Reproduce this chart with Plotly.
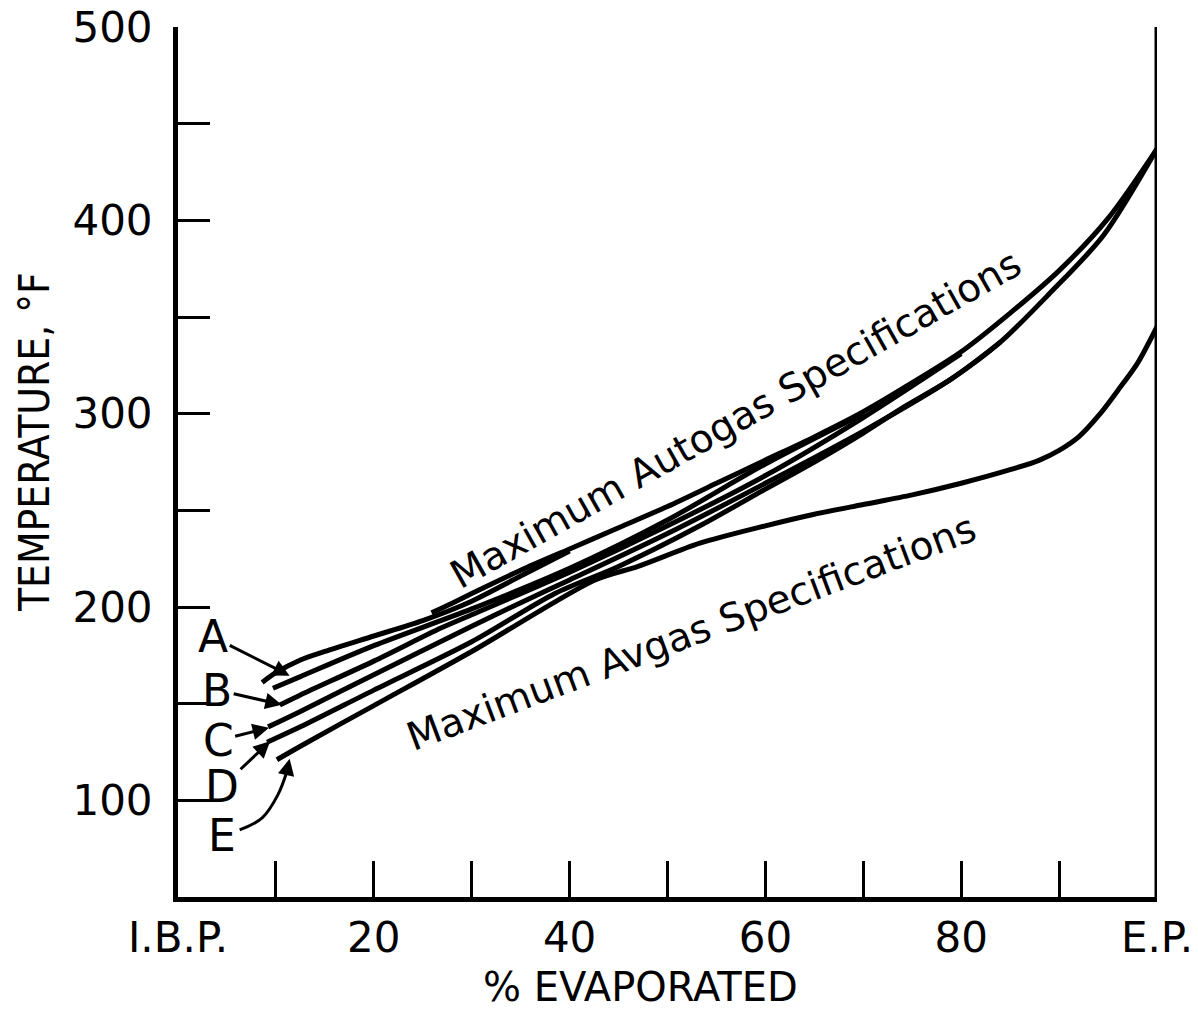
import plotly.graph_objects as go

# ---- data ----
autogas_x = [25.9, 28, 30, 35, 40, 45, 50, 55, 60, 65, 70, 75, 80, 85, 90, 95, 100]
autogas_y = [197, 202, 207, 219, 230, 241, 252, 264, 276, 288, 301, 316, 332, 352, 374, 401, 437]

a_x = [8.6, 10, 12.5, 15, 20, 25, 30, 35, 40]
a_y = [161, 166, 172.6, 177, 185, 193, 203, 216, 229]

a2_x = [9.7, 12.5, 20, 30, 40, 50, 60, 70]
a2_y = [158, 164, 180, 199, 220, 245, 274, 300]

b_x = [10.4, 12.5, 20, 26.8, 30, 40, 50, 60, 70, 80]
b_y = [149.3, 154.5, 172, 189, 196, 218, 242, 268, 298, 331]

c_x = [9.2, 12.5, 20, 30, 34.9, 40, 50, 60, 70, 79, 84]
c_y = [138, 146, 165, 190, 202, 214, 238, 264, 291, 318, 337]

d_x = [9.1, 12.5, 20, 30, 38.5, 45, 53.3, 60, 65, 70, 74, 79, 84, 89, 94.5, 100]
d_y = [130, 138, 157, 182, 207, 221, 242, 261, 275, 290, 303, 318, 337, 362, 392, 437]

e_x = [10.1, 12.5, 20, 30, 42.6, 47, 53.3, 60, 65, 70, 75, 80, 85, 88, 90, 92, 94.2, 96, 98, 100]
e_y = [121, 128, 149, 177, 214, 221, 233, 242, 248, 253, 258, 264, 271, 276, 281, 288, 300, 312, 326, 345]

# curved leader from label E
e_lead_x = [6.3, 8.6, 10.2, 11.1]
e_lead_y = [84.7, 90.9, 102.8, 114.5]

x_tickvals = [0, 10, 20, 30, 40, 50, 60, 70, 80, 90, 100]
x_ticktext = ["I.B.P.", "", "20", "", "40", "", "60", "", "80", "", "E.P."]
y_tickvals = [50, 100, 150, 200, 250, 300, 350, 400, 450, 500]
y_ticktext = ["", "100", "", "200", "", "300", "", "400", "", "500"]

labels = ["A", "B", "C", "D", "E"]
label_x = [3.6, 4.0, 4.1, 4.5, 4.5]
label_y = [184.5, 157, 131, 107, 82]
tip_x = [11.4, 10.6, 9.3, 9.4, None]
tip_y = [164.5, 149.5, 137.5, 130.5, None]

FONT = "DejaVu Sans, Verdana, sans-serif"
LW = 5

fig = go.Figure()
for xs, ys in [(autogas_x, autogas_y), (a_x, a_y), (a2_x, a2_y), (b_x, b_y),
               (c_x, c_y), (d_x, d_y), (e_x, e_y)]:
    fig.add_trace(go.Scatter(x=xs, y=ys, mode="lines",
                             line=dict(color="black", width=LW, shape="spline", smoothing=0.8),
                             showlegend=False, hoverinfo="skip"))
fig.add_trace(go.Scatter(x=e_lead_x, y=e_lead_y, mode="lines",
                         line=dict(color="black", width=3, shape="spline"),
                         showlegend=False, hoverinfo="skip"))

annotations = []
for i, lab in enumerate(labels):
    if tip_x[i] is not None:
        annotations.append(dict(x=tip_x[i], y=tip_y[i], ax=label_x[i], ay=label_y[i],
                                xref="x", yref="y", axref="x", ayref="y",
                                text=lab, showarrow=True, arrowhead=2, arrowsize=1.1,
                                arrowwidth=3, arrowcolor="black",
                                font=dict(family=FONT, size=44, color="black")))
    else:
        annotations.append(dict(x=label_x[i], y=label_y[i], xref="x", yref="y",
                                text=lab, showarrow=False,
                                font=dict(family=FONT, size=44, color="black")))
# arrow head on E leader
annotations.append(dict(x=11.4, y=121.5, ax=e_lead_x[-1], ay=e_lead_y[-1],
                        xref="x", yref="y", axref="x", ayref="y", text="",
                        showarrow=True, arrowhead=2, arrowsize=1.1, arrowwidth=3,
                        arrowcolor="black"))

annotations.append(dict(x=56.9, y=297, xref="x", yref="y",
                        text="Maximum Autogas Specifications", showarrow=False,
                        textangle=-29.4,
                        font=dict(family=FONT, size=39, color="black")))
annotations.append(dict(x=52.4, y=187, xref="x", yref="y",
                        text="Maximum Avgas Specifications", showarrow=False,
                        textangle=-20.6,
                        font=dict(family=FONT, size=39, color="black")))

# axis titles
annotations.append(dict(x=0.472, y=-0.103, xref="paper", yref="paper",
                        text="% EVAPORATED", showarrow=False,
                        xanchor="center", yanchor="middle",
                        font=dict(family=FONT, size=40, color="black")))
annotations.append(dict(x=-0.146, y=0.523, xref="paper", yref="paper",
                        text="TEMPERATURE, °F", showarrow=False, textangle=-90,
                        xanchor="center", yanchor="middle",
                        font=dict(family="DejaVu Sans Condensed, Liberation Sans Narrow, DejaVu Sans, sans-serif",
                                  size=42, color="black")))

fig.update_layout(
    width=1198, height=1011,
    margin=dict(l=178, r=41, t=27, b=114, autoexpand=False),
    paper_bgcolor="white", plot_bgcolor="white",
    annotations=annotations,
    shapes=[dict(type="line", xref="x", yref="y", x0=100, x1=100, y0=50, y1=505,
                 line=dict(color="black", width=LW))],
)
fig.update_xaxes(range=[0, 100], showgrid=False, zeroline=False, automargin=False,
                 showline=True, linecolor="black", linewidth=LW,
                 ticks="inside", ticklen=36, tickwidth=3, tickcolor="black",
                 tickvals=x_tickvals, ticktext=x_ticktext, ticklabelstandoff=0,
                 tickfont=dict(family=FONT, size=42, color="black"))
fig.update_yaxes(range=[50, 500], showgrid=False, zeroline=False, automargin=False,
                 showline=True, linecolor="black", linewidth=LW,
                 ticks="inside", ticklen=32, tickwidth=3, tickcolor="black",
                 tickvals=y_tickvals, ticktext=y_ticktext, ticklabelstandoff=12,
                 tickfont=dict(family=FONT, size=42, color="black"))

fig.write_html("out.html")
